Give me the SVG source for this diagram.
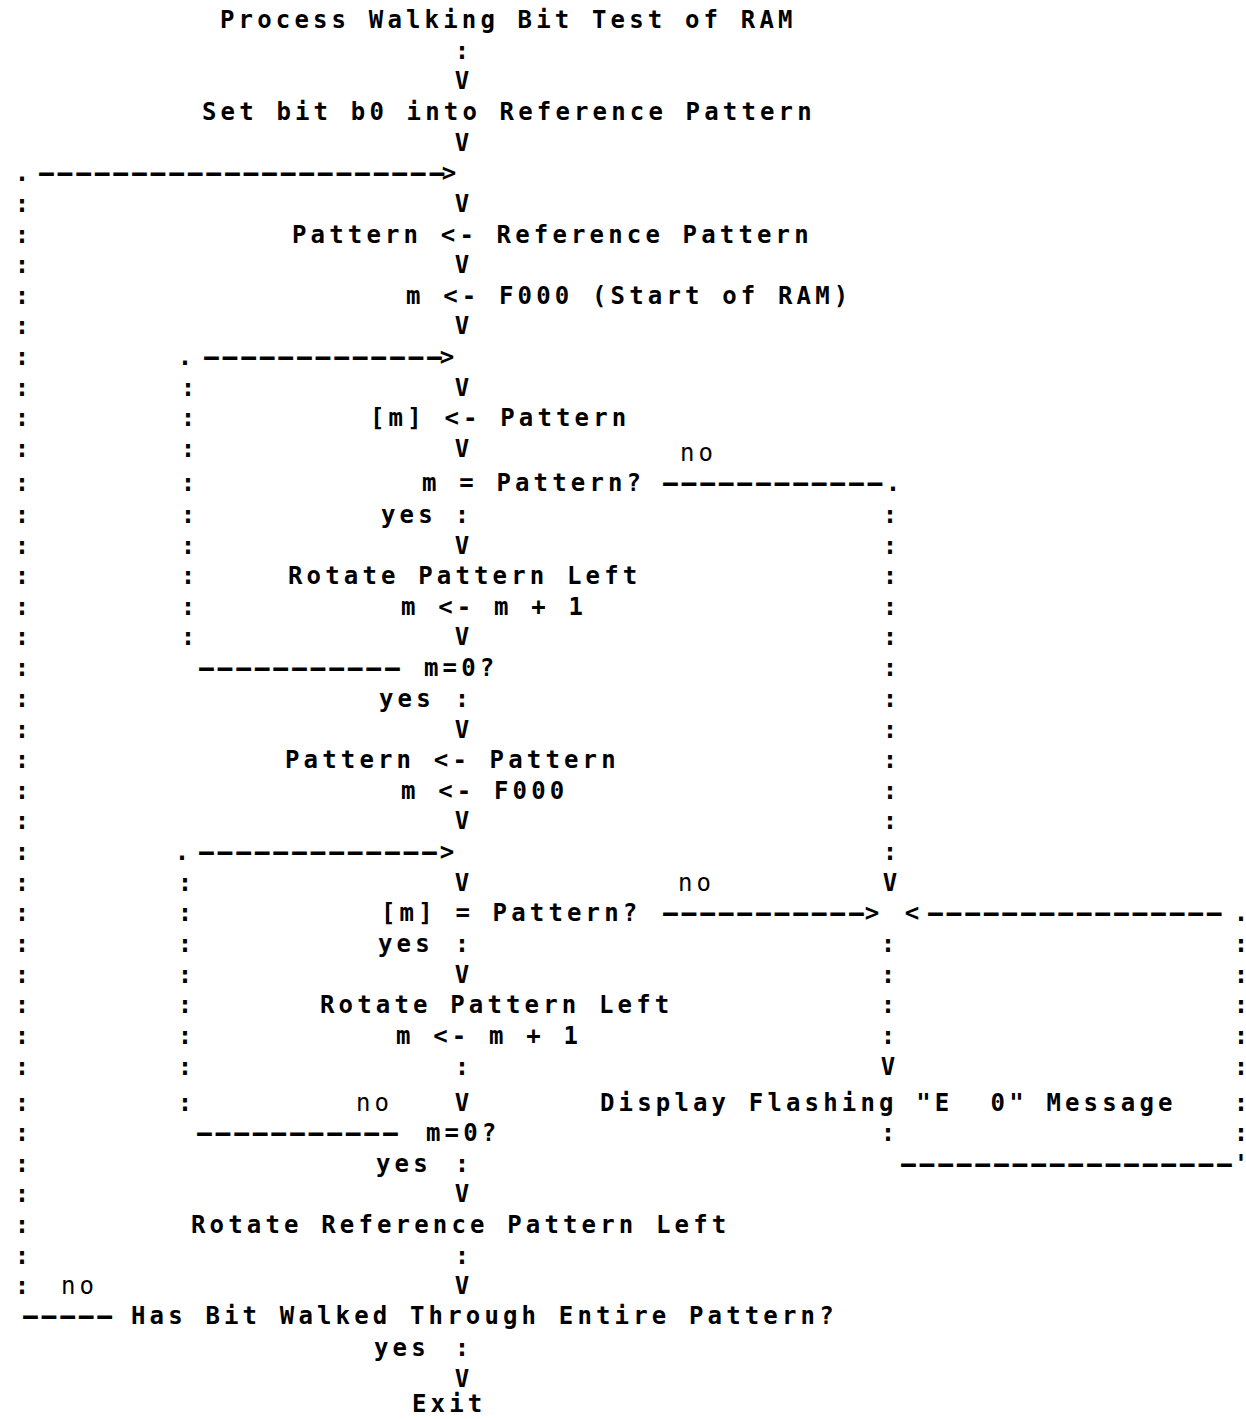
<svg xmlns="http://www.w3.org/2000/svg" width="1246" height="1419" viewBox="0 0 1246 1419" xml:space="preserve">
  <style>
    text { font-family: "DejaVu Sans Mono", "Liberation Mono", monospace; fill: #000; white-space: pre; }
    .t { font-size: 24px; font-weight: bold; letter-spacing: 4.15px; }
    .lbl { font-size: 24px; font-weight: bold; letter-spacing: 4.15px; }
    .no { font-size: 24px; font-weight: normal; letter-spacing: 4.15px; }
    .c { font-size: 24px; font-weight: bold; text-anchor: middle; }
    .d { font-size: 24px; font-weight: bold; letter-spacing: -5.15px; }
  </style>
  <rect width="1246" height="1419" fill="#fff"/>

  <!-- flow nodes -->
  <g id="start"><text class="t" x="220" y="28">Process Walking Bit Test of RAM</text></g>
  <g id="set-b0"><text class="t" x="202" y="120">Set bit b0 into Reference Pattern</text></g>
  <g id="load-pattern"><text class="t" x="292" y="243">Pattern &lt;- Reference Pattern</text></g>
  <g id="init-m"><text class="t" x="406" y="304">m &lt;- F000 (Start of RAM)</text></g>
  <g id="write-m"><text class="t" x="370" y="426">[m] &lt;- Pattern</text></g>
  <g id="check-write"><text class="t" x="422" y="491">m = Pattern?</text></g>
  <g id="rotate-1">
    <text class="t" x="288" y="584">Rotate Pattern Left</text>
    <text class="t" x="401" y="615">m &lt;- m + 1</text>
  </g>
  <g id="end-1"><text class="t" x="424" y="676">m=0?</text></g>
  <g id="reload">
    <text class="t" x="285" y="768">Pattern &lt;- Pattern</text>
    <text class="t" x="401" y="799">m &lt;- F000</text>
  </g>
  <g id="check-read"><text class="t" x="381" y="921">[m] = Pattern?</text></g>
  <g id="rotate-2">
    <text class="t" x="320" y="1013">Rotate Pattern Left</text>
    <text class="t" x="396" y="1044">m &lt;- m + 1</text>
  </g>
  <g id="end-2"><text class="t" x="426" y="1141">m=0?</text></g>
  <g id="error"><text class="t" x="600" y="1111">Display Flashing "E  0" Message</text></g>
  <g id="rotate-ref"><text class="t" x="191" y="1233">Rotate Reference Pattern Left</text></g>
  <g id="walked"><text class="t" x="131" y="1324">Has Bit Walked Through Entire Pattern?</text></g>
  <g id="exit"><text class="t" x="412" y="1412">Exit</text></g>

  <!-- connectors -->
  <g id="connectors">
    <!-- outer loop rail -->
    <text class="c" x="22 22 22 22 22 22 22 22 22 22 22 22 22 22 22 22 22 22 22 22 22 22 22 22 22 22 22 22 22 22 22 22 22 22 22 22" y="212 243 273 304 334 365 396 426 457 491 523 554 584 615 645 676 707 738 768 799 829 860 891 921 952 983 1013 1044 1075 1111 1141 1172 1202 1233 1264 1294">::::::::::::::::::::::::::::::::::::</text>
    <!-- write loop rail -->
    <text class="c" x="188 188 188 188 188 188 188 188 188" y="396 426 457 491 523 554 584 615 645">:::::::::</text>
    <!-- read loop rail -->
    <text class="c" x="185 185 185 185 185 185 185 185" y="891 921 952 983 1013 1044 1075 1111">::::::::</text>
    <!-- main spine, one piece per gap between steps -->
    <text class="c" x="462 462" y="59 89">:V</text>
    <text class="c" x="462" y="151">V</text>
    <text class="c" x="462" y="212">V</text>
    <text class="c" x="462" y="273">V</text>
    <text class="c" x="462" y="334">V</text>
    <text class="c" x="462" y="396">V</text>
    <text class="c" x="462" y="457">V</text>
    <text class="c" x="462 462" y="523 554">:V</text>
    <text class="c" x="462" y="645">V</text>
    <text class="c" x="462 462" y="707 738">:V</text>
    <text class="c" x="462" y="829">V</text>
    <text class="c" x="462" y="891">V</text>
    <text class="c" x="462 462" y="952 983">:V</text>
    <text class="c" x="462 462" y="1075 1111">:V</text>
    <text class="c" x="462 462" y="1172 1202">:V</text>
    <text class="c" x="462 462" y="1264 1294">:V</text>
    <text class="c" x="462 462" y="1356 1387">:V</text>
    <!-- error path rail -->
    <text class="c" x="890 890 890 890 890 890 890 890 890 890 890 890 890" y="523 554 584 615 645 676 707 738 768 799 829 860 891">::::::::::::V</text>
    <text class="c" x="888 888 888 888 888" y="952 983 1013 1044 1075">::::V</text>
    <text class="c" x="888" y="1141">:</text>
    <!-- error return loop -->
    <text class="c" x="1241 1241 1241 1241 1241 1241 1241" y="952 983 1013 1044 1075 1111 1141">:::::::</text>

    <!-- corners and arrow tips -->
    <text class="c" x="22" y="181">.</text>
    <text class="c" x="185" y="365">.</text>
    <text class="c" x="893" y="491">.</text>
    <text class="c" x="182" y="860">.</text>
    <text class="c" x="1241" y="921">.</text>
    <text class="c" x="1241" y="1172">'</text>
    <text class="c" x="449" y="181">&gt;</text>
    <text class="c" x="447" y="365">&gt;</text>
    <text class="c" x="447" y="860">&gt;</text>
    <text class="c" x="872" y="921">&gt;</text>
    <text class="c" x="912" y="921">&lt;</text>

    <!-- dash runs (stretched horizontally to fill each cell) -->
    <text class="d" transform="scale(2 1)" x="16" y="181">----------------------</text>
    <text class="d" transform="scale(2 1)" x="98.5" y="365">-------------</text>
    <text class="d" transform="scale(2 1)" x="328" y="491">------------</text>
    <text class="d" transform="scale(2 1)" x="96" y="676">-----------</text>
    <text class="d" transform="scale(2 1)" x="96" y="860">-------------</text>
    <text class="d" transform="scale(2 1)" x="328" y="921">-----------</text>
    <text class="d" transform="scale(2 1)" x="460.5" y="921">----------------</text>
    <text class="d" transform="scale(2 1)" x="95" y="1141">-----------</text>
    <text class="d" transform="scale(2 1)" x="447" y="1172">------------------</text>
    <text class="d" transform="scale(2 1)" x="8" y="1324">-----</text>

    <!-- branch labels -->
    <text class="lbl" x="381" y="523">yes</text>
    <text class="lbl" x="379" y="707">yes</text>
    <text class="lbl" x="378" y="952">yes</text>
    <text class="lbl" x="376" y="1172">yes</text>
    <text class="lbl" x="374" y="1356">yes</text>
    <text class="no" x="680" y="461">no</text>
    <text class="no" x="678" y="891">no</text>
    <text class="no" x="356" y="1111">no</text>
    <text class="no" x="61" y="1294">no</text>
  </g>
</svg>
